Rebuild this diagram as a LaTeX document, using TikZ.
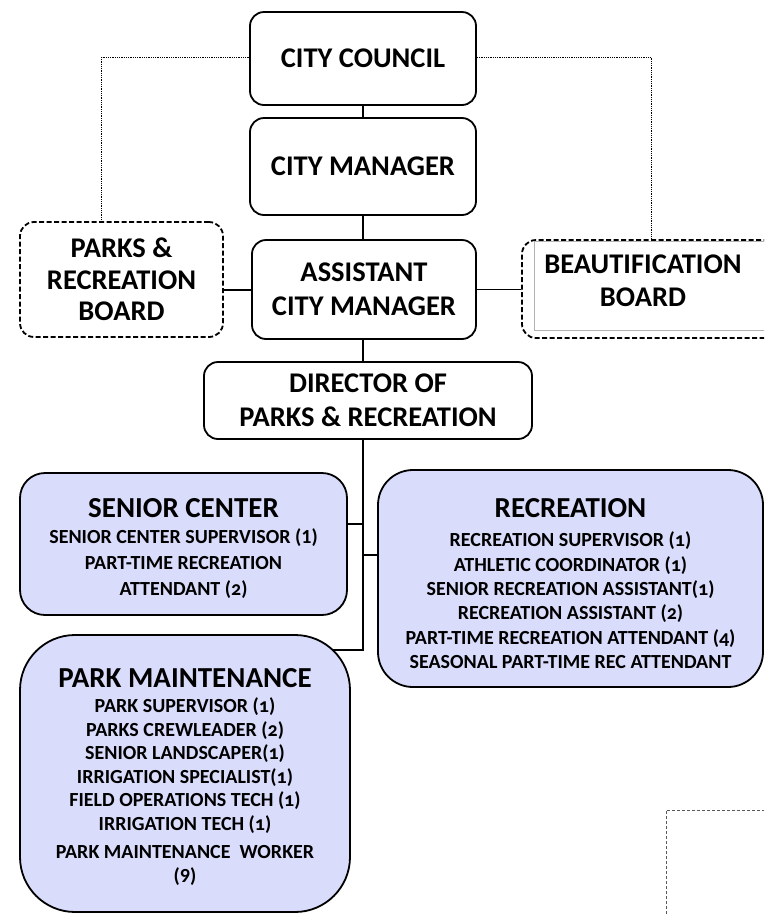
\documentclass[tikz,border=0pt]{standalone}
\usepackage{fontspec}
\setmainfont{Carlito}
\newfontfamily\onum{Carlito}[Numbers=OldStyle]
\usetikzlibrary{backgrounds}
\definecolor{lav}{RGB}{218,220,252}
\newcommand{\topstrut}[1]{\rule{0pt}{#1}}
\begin{document}
\begin{tikzpicture}[x=1pt,y=-1pt,
  box/.style={draw, line width=1.8pt, rounded corners=14pt, fill=white, align=center, inner sep=0pt,
    font=\bfseries\fontsize{28.5}{34}\selectfont},
  dbox/.style={box, dash pattern=on 5pt off 2.5pt},
  unitbox/.style={draw, line width=1.8pt, fill=lav, align=center, inner sep=0pt},
  conn/.style={line width=1.3pt},
  thinconn/.style={line width=0.8pt},
  dots/.style={line width=0.8pt, densely dotted}]
\useasboundingbox (0,0) rectangle (764,914);
\clip (0,0) rectangle (764,914);

\node[box, minimum width=226pt, minimum height=93pt] (council) at (363,58.5) {CITY COUNCIL};
\node[box, minimum width=226pt, minimum height=97pt] (manager) at (363,166.5) {CITY MANAGER};
\node[box, minimum width=224pt, minimum height=99pt] (assistant) at (364,289.5) {ASSISTANT\\CITY MANAGER};
\node[dbox, minimum width=203pt, minimum height=115pt, font=\bfseries\fontsize{28.5}{31.5}\selectfont] (pboard) at (121.5,279.5) {PARKS \&\\RECREATION\\BOARD};
\node[dbox, minimum width=268pt, minimum height=98pt] (beaut) at (656,289) {};
\draw[gray!60, line width=0.6pt] (534,241) rectangle (800,330);
\node[font=\bfseries\fontsize{28.5}{33}\selectfont, align=center] (beauttext) at (643,280.5) {BEAUTIFICATION\\BOARD};
\node[box, minimum width=328pt, minimum height=77pt] (director) at (368,400.5) {DIRECTOR OF\\PARKS \& RECREATION};

\node[unitbox, rounded corners=25pt, minimum width=327pt, minimum height=142pt,
  font=\bfseries\fontsize{20}{26}\selectfont] (senior) at (183.5,544)
  {{\fontsize{29}{30}\selectfont\topstrut{29pt}SENIOR CENTER}\\[0pt]
   SENIOR CENTER SUPERVISOR (1)\\PART-TIME RECREATION\\ATTENDANT {\onum(2)}};
\node[unitbox, rounded corners=35pt, minimum width=385pt, minimum height=217pt,
  font=\bfseries\fontsize{20}{24.3}\selectfont] (rec) at (570.5,578.5)
  {{\fontsize{29}{30}\selectfont\topstrut{29pt}RECREATION}\\[5pt]
   RECREATION SUPERVISOR {\onum(1)}\\ATHLETIC COORDINATOR {\onum(1)}\\SENIOR RECREATION ASSISTANT{\onum(1)}\\
   RECREATION ASSISTANT {\onum(2)}\\PART-TIME RECREATION ATTENDANT {\onum(4)}\\SEASONAL PART-TIME REC ATTENDANT};
\node[unitbox, rounded corners=55pt, minimum width=330pt, minimum height=277pt,
  font=\bfseries\fontsize{20}{23.5}\selectfont] (maint) at (185,773.5)
  {{\fontsize{29}{30}\selectfont\topstrut{26pt}PARK MAINTENANCE}\\[2pt]
   PARK SUPERVISOR {\onum(1)}\\PARKS CREWLEADER {\onum(2)}\\SENIOR LANDSCAPER{\onum(1)}\\IRRIGATION SPECIALIST{\onum(1)}\\
   FIELD OPERATIONS TECH {\onum(1)}\\IRRIGATION TECH {\onum(1)}\\[5pt]PARK MAINTENANCE~~WORKER\\(9)};

\coordinate (cornerA) at (666,914);
\coordinate (cornerB) at (666,810);
\coordinate (cornerC) at (764,810);
\draw[line width=0.8pt, densely dashed, gray!70!black] (cornerA) -- (cornerB) -- (cornerC);

\begin{scope}[on background layer]
  \draw[conn] (council) -- (manager);
  \draw[conn] (manager) -- (assistant.north -| manager);
  \draw[conn] (assistant.south -| manager) -- (director.north -| manager);
  \coordinate (trunkend) at (363,650);
  \draw[conn] (director.south -| manager) -- (trunkend) -- (trunkend -| maint.center);
  \draw[conn] (363,524) -- (senior.east |- 0,524);
  \draw[conn] (363,555) -- (rec.west |- 0,555);
  \draw[conn] (assistant.west |- 0,290) -- (pboard.east |- 0,290);
  \draw[thinconn] (assistant.east |- 0,289) -- (beaut.west |- 0,289);
  \draw[dots] (council.west |- 0,57) -| ([xshift=-20pt]pboard.north);
  \draw[dots] (council.east |- 0,57) -| ([xshift=-5pt]beaut.north);
\end{scope}
\end{tikzpicture}
\end{document}
